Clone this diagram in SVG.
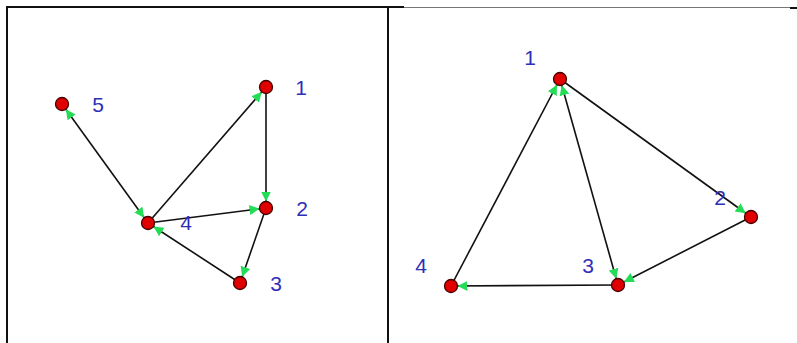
<svg xmlns="http://www.w3.org/2000/svg" width="797" height="343" viewBox="0 0 797 343">
<style>
.edge{stroke:#111;stroke-width:1.6;fill:none;marker-end:url(#ah)}
.both{marker-start:url(#ah)}
.node{fill:#e00000;stroke:#400;stroke-width:1.3}
.lbl{font-family:"Liberation Sans",Arial,sans-serif;font-size:21px;fill:#2e2eb8;text-anchor:middle}
</style>
<defs>
<marker id="ah" markerUnits="userSpaceOnUse" markerWidth="22" markerHeight="14" refX="16.5" refY="5" orient="auto-start-reverse" viewBox="0 0 22 14">
<path d="M0,0 L10,5 L0,10 z" fill="#22dd55"/>
</marker>
</defs>
<rect width="797" height="343" fill="#fff"/>
<g id="frame">
<line x1="6" y1="7" x2="404" y2="7" stroke="#111" stroke-width="2"/>
<line x1="7" y1="6" x2="7" y2="343" stroke="#111" stroke-width="2"/>
<line x1="388" y1="7" x2="388" y2="343" stroke="#111" stroke-width="2"/>
<line x1="404" y1="7.5" x2="790" y2="7.5" stroke="#777" stroke-width="1"/>
<line x1="790" y1="8" x2="797" y2="8" stroke="#111" stroke-width="2"/>
</g>
<g id="connectors">
<line class="edge both" x1="148" y1="223" x2="62" y2="104"/>
<line class="edge" x1="148" y1="223" x2="266" y2="87"/>
<line class="edge" x1="266" y1="87" x2="266" y2="208"/>
<line class="edge" x1="148" y1="223" x2="266" y2="208"/>
<line class="edge" x1="266" y1="208" x2="240" y2="283"/>
<line class="edge" x1="240" y1="283" x2="148" y2="223"/>
<line class="edge" x1="451" y1="286" x2="560" y2="79"/>
<line class="edge both" x1="618" y1="285" x2="560" y2="79"/>
<line class="edge" x1="560" y1="79" x2="751" y2="217"/>
<line class="edge" x1="751" y1="217" x2="618" y2="285"/>
<line class="edge" x1="618" y1="285" x2="451" y2="286"/>
</g>
<g id="L1"><circle class="node" cx="266" cy="87" r="6.5"/><text class="lbl" x="301" y="95">1</text></g>
<g id="L2"><circle class="node" cx="266" cy="208" r="6.5"/><text class="lbl" x="302" y="216">2</text></g>
<g id="L3"><circle class="node" cx="240" cy="283" r="6.5"/><text class="lbl" x="276" y="291">3</text></g>
<g id="L4"><circle class="node" cx="148" cy="223" r="6.5"/><text class="lbl" x="186" y="230">4</text></g>
<g id="L5"><circle class="node" cx="62" cy="104" r="6.5"/><text class="lbl" x="98" y="112">5</text></g>
<g id="R1"><circle class="node" cx="560" cy="79" r="6.5"/><text class="lbl" x="530" y="65">1</text></g>
<g id="R2"><circle class="node" cx="751" cy="217" r="6.5"/><text class="lbl" x="720" y="205">2</text></g>
<g id="R3"><circle class="node" cx="618" cy="285" r="6.5"/><text class="lbl" x="588" y="273">3</text></g>
<g id="R4"><circle class="node" cx="451" cy="286" r="6.5"/><text class="lbl" x="421" y="273">4</text></g>
</svg>
